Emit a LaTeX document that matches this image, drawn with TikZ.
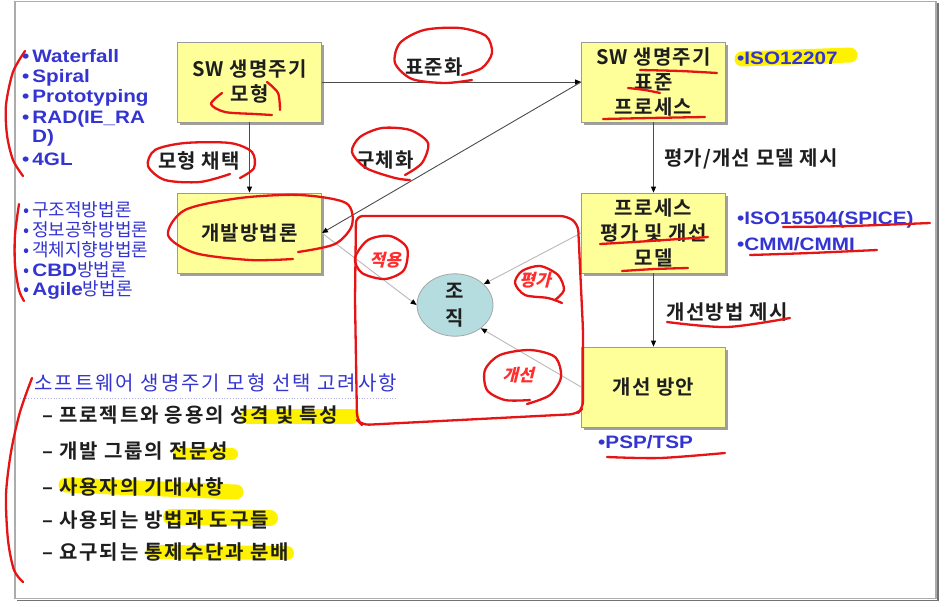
\documentclass[tikz,border=0pt]{standalone}
\usepackage{fontspec}
\setmainfont{Noto Sans CJK KR}[BoldFont={Noto Sans CJK KR Bold}]
\newfontfamily\latinb{Liberation Sans}[FakeStretch=1.15]
\newfontfamily\redit{Noto Sans CJK KR}[FakeSlant=0.25]
\usetikzlibrary{arrows.meta,shadows,shapes.geometric}
\definecolor{boxy}{HTML}{FFFF99}
\definecolor{boxline}{HTML}{9A9A9A}
\definecolor{orgfill}{HTML}{B5DDE0}
\definecolor{listblue}{RGB}{52,52,210}
\definecolor{annred}{RGB}{230,20,20}
\definecolor{redtext}{RGB}{255,45,45}
\definecolor{hlyellow}{RGB}{255,242,0}
\definecolor{txt}{HTML}{1E1E1E}
\tikzset{
  box/.style={rectangle, fill=boxy, draw=boxline, line width=0.8pt,
    minimum width=144pt, minimum height=80pt, inner sep=0pt, align=center,
    font=\fontsize{20}{25}\selectfont\bfseries\addfontfeatures{LetterSpace=6}, text=txt,
    drop shadow={shadow xshift=2.5pt, shadow yshift=-2.5pt, fill=gray!75, opacity=1}},
  orgnode/.style={ellipse, fill=orgfill, draw=gray!70, line width=0.8pt,
    minimum width=76pt, minimum height=60pt, inner sep=0pt, align=center,
    font=\fontsize{20}{27}\selectfont\bfseries, text=txt},
  mainarrow/.style={draw=gray!60!black, line width=0.9pt, -{Triangle[length=6pt,width=5pt,color=black]}},
  thinarrow/.style={draw=gray!55, line width=0.9pt, -{Triangle[length=6pt,width=5pt,color=black]}},
  lab/.style={font=\fontsize{20}{22}\selectfont\bfseries\addfontfeatures{LetterSpace=6}, text=txt, inner sep=0pt},
  blat/.style={font=\latinb\fontsize{18}{20}\selectfont\bfseries, text=listblue, inner sep=0pt, anchor=west},
  bkor/.style={font=\fontsize{18}{20}\selectfont, text=listblue, inner sep=0pt, anchor=west},
  item/.style={font=\fontsize{20}{22}\selectfont\bfseries\addfontfeatures{LetterSpace=9}, text=txt, inner sep=0pt, anchor=west},
  annot/.style={draw=annred, line width=2.3pt, line cap=round, line join=round},
  hl/.style={draw=hlyellow, line cap=round},
  redlab/.style={font=\redit\fontsize{17}{20}\selectfont\bfseries, text=redtext, inner sep=0pt}
}
\begin{document}
\begin{tikzpicture}[x=1pt,y=-1pt]
\useasboundingbox (0,0) rectangle (945,606);
\fill[white] (0,0) rectangle (945,606);
% frame
\draw[gray!65, line width=1.2pt] (15,1.5) rectangle (936,598.5);
\draw[gray!90!black, line width=1.6pt] (17,600.5) -- (938,600.5) -- (938,3);

% highlights
\draw[hl, line width=15pt] (742,59) -- (850,55);
\draw[hl, line width=15pt] (248,416) -- (352,416);
\draw[hl, line width=12pt] (179,454) -- (232,454);
\draw[hl, line width=15pt] (66,485) -- (236,492);
\draw[hl, line width=16pt] (171,517) -- (270,518);
\draw[hl, line width=14pt] (153,552) -- (287,553);

% boxes
\node[box] (A) at (249.5,82) {SW 생명주기\\모형};
\node[box] (B) at (653.5,82) {SW 생명주기\\표준\\프로세스};
\node[box] (C) at (249.5,233) {개발방법론};
\node[box] (D) at (653.5,233) {프로세스\\평가 및 개선\\모델};
\node[box] (E) at (653.5,387) {개선 방안};
\node[orgnode] (O) at (455,305) {조\\직};

% connectors
\draw[mainarrow] (A.east) -- (B.west);
\draw[mainarrow] (B.west) -- (C.east);
\draw[mainarrow] (A.south) -- (C.north);
\draw[mainarrow] (B.south) -- (D.north);
\draw[mainarrow] (D.south) -- (E.north);
\draw[thinarrow] (C.east) -- (O.west);
\draw[thinarrow] (D.west) -- (O.36);
\draw[thinarrow] (E.west) -- (O.-42);

% connector labels
\node[lab] (l1) at (434,67) {표준화};
\node[lab] (l2) at (199,161) {모형 채택};
\node[lab] (l3) at (385,160) {구체화};
\node[lab] (l4) at (751,159) {평가/개선 모델 제시};
\node[lab] (l5) at (727,312) {개선방법 제시};

% left lists
\node[blat] (w1) at (22,56) {•\,Waterfall};
\node[blat] (w2) at (22,78) {•\,Spiral};
\node[blat] (w3) at (22,98) {•\,Prototyping};
\node[blat] (w4) at (22,119) {•\,RAD(IE\_RA};
\node[blat] (w5) at (32,138) {D)};
\node[blat] (w6) at (22,159) {•\,4GL};
\node[bkor] (k1) at (23,210) {•\,구조적방법론};
\node[bkor] (k2) at (23,230) {•\,정보공학방법론};
\node[bkor] (k3) at (23,250) {•\,객체지향방법론};
\node[bkor] (k4) at (23,270) {•\,{\latinb\bfseries CBD}방법론};
\node[bkor] (k5) at (23,290) {•\,{\latinb\bfseries Agile}방법론};

% right standards
\node[blat] (s1) at (737,58) {•ISO12207};
\node[blat] (s2) at (737,220) {•ISO15504(SPICE)};
\node[blat] (s3) at (737,244) {•CMM/CMMI};
\node[blat] (s4) at (598,442) {•PSP/TSP};

% bottom-left considerations
\node[font=\fontsize{20}{22}\selectfont\addfontfeatures{LetterSpace=10}, text=listblue, inner sep=0pt, anchor=west] (h) at (34,383) {소프트웨어 생명주기 모형 선택 고려사항};
\draw[draw=gray!45!blue!40, line width=0.8pt, dotted] (20,398) -- (398,398);
\node[item] (i1) at (42,415) {– 프로젝트와 응용의 성격 및 특성};
\node[item] (i2) at (42,451) {– 개발 그룹의 전문성};
\node[item] (i3) at (42,487) {– 사용자의 기대사항};
\node[item] (i4) at (42,520) {– 사용되는 방법과 도구들};
\node[item] (i5) at (42,552) {– 요구되는 통제수단과 분배};

% red labels
\node[redlab] (r1) at (385,260) {적용};
\node[redlab] (r2) at (535,280) {평가};
\node[redlab] (r3) at (518,375) {개선};

% red annotations
\draw[annot] plot[smooth] coordinates {(25,51) (13,72) (6,105) (7,135) (13,160) (23,176)};
\draw[annot] plot[smooth] coordinates {(19,204) (15,235) (15,265) (19,290) (24,301)};
\draw[annot] plot[smooth] coordinates {(32,378) (20,412) (11,452) (6,495) (8,540) (14,570) (23,582)};
\draw[annot] plot[smooth] coordinates {(472,80) (445,83) (412,79) (395,63) (400,43) (424,30) (460,28) (486,36) (492,53) (482,68) (462,75)};
\draw[annot] plot[smooth] coordinates {(222,93) (211,104) (225,112) (255,114) (272,115)};
\draw[annot] plot[smooth] coordinates {(267,82) (278,93) (280,110)};
\draw[annot] plot[smooth] coordinates {(230,174) (200,182) (165,180) (148,166) (155,150) (185,143) (230,143) (252,152) (254,168) (240,178)};
\draw[annot] plot[smooth] coordinates {(410,180) (395,178) (366,168) (352,152) (360,137) (382,128) (410,130) (428,143) (422,163) (405,175)};
\draw[annot] plot[smooth] coordinates {(298,252) (335,244) (352,225) (346,203) (300,195) (240,198) (185,210) (168,235) (195,253) (250,260) (293,259)};
\draw[annot, rounded corners=7pt] (356,216) -- (567,216) -- (578,224) -- (583,330) -- (583,408) -- (577,414) -- (362,425) -- (357,420) -- (355,300) -- cycle;
\draw[annot] plot[smooth cycle] coordinates {(355,258) (368,240) (390,236) (407,248) (404,270) (385,279) (362,273)};
\draw[annot] plot[smooth] coordinates {(562,303) (548,298) (525,295) (515,283) (522,271) (540,266) (558,275) (564,290) (555,300)};
\draw[annot] plot[smooth] coordinates {(530,400) (505,400) (487,390) (485,370) (500,355) (530,350) (555,357) (561,377) (550,395) (527,404)};
% underlines
\draw[annot] plot[smooth] coordinates {(640,70) (680,71) (717,73)};
\draw[annot] plot[smooth] coordinates {(628,88) (645,90) (660,93)};
\draw[annot] plot[smooth] coordinates {(603,119) (650,118) (705,117)};
\draw[annot] plot[smooth] coordinates {(600,244) (650,241) (708,237)};
\draw[annot] plot[smooth] coordinates {(622,271) (655,269) (688,268)};
\draw[annot] plot[smooth] coordinates {(783,227) (850,226) (930,223)};
\draw[annot] plot[smooth] coordinates {(750,255) (810,253) (877,250)};
\draw[annot] plot[smooth] coordinates {(667,322) (727,327) (790,318)};
\draw[annot] plot[smooth] coordinates {(607,457) (660,458) (725,453)};
\end{tikzpicture}
\end{document}
